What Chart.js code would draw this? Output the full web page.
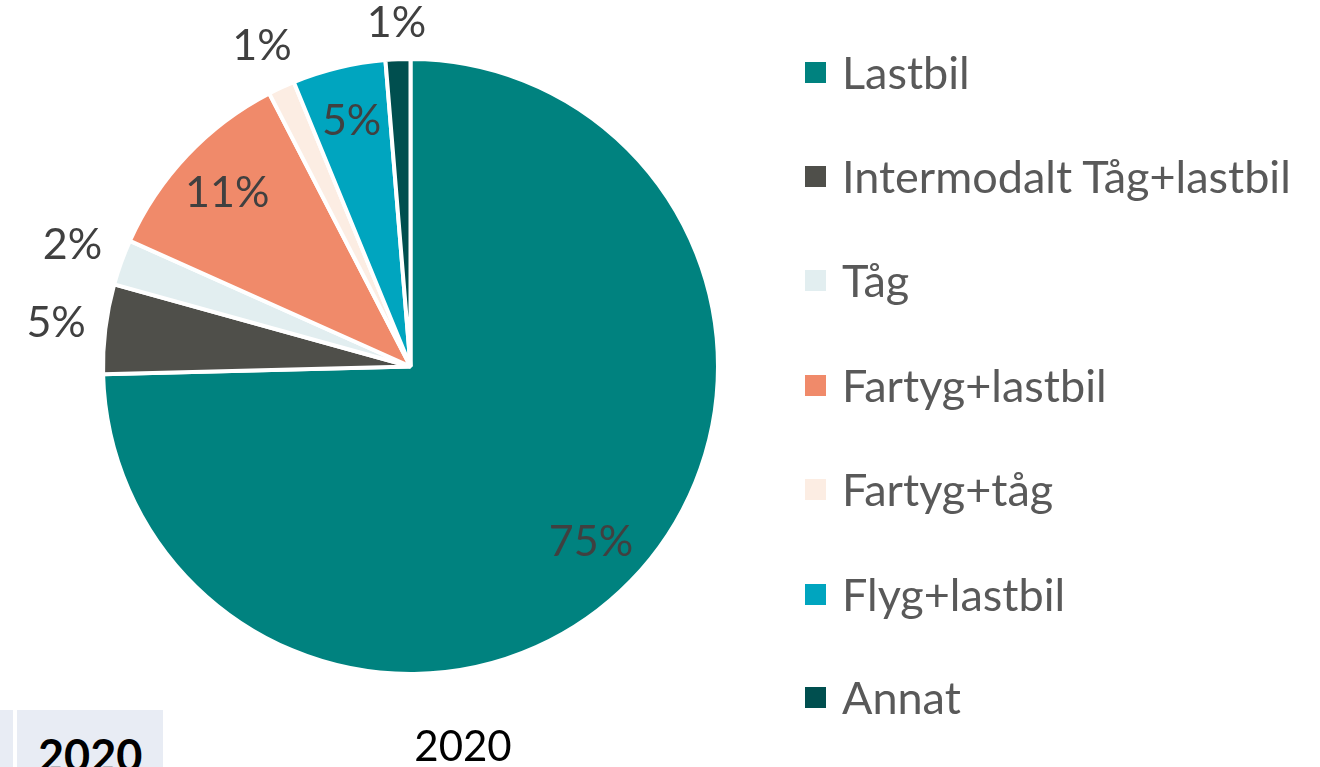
<!DOCTYPE html>
<html>
<head>
<meta charset="utf-8">
<script src="https://cdn.jsdelivr.net/npm/chart.js@4/dist/chart.umd.min.js"></script>
<style>
  body { margin: 0; background: #fff; }
  #wrap { position: relative; width: 1320px; height: 767px; overflow: hidden; font-family: Lato, sans-serif; }
  #grafico { position: absolute; left: 0; top: 0; }
  #leyenda { position: absolute; left: 805px; top: 0; }
  .item { position: absolute; left: 0; white-space: nowrap; color: #595959; font-size: 45px; line-height: 40px; }
  .item span.box { position: absolute; left: 0; top: 9px; width: 21px; height: 21px; }
  .item span.txt { position: absolute; left: 37px; top: -1px; }
  #titulo { position: absolute; left: 463px; top: 720px; transform: translateX(-50%); font-size: 42px; color: #000; }
  .celda { position: absolute; top: 710px; height: 57px; background: #E8ECF4; }
  #anio { position: absolute; left: 38px; top: 728px; font-size: 45px; font-weight: bold; color: #000; }
</style>
</head>
<body>
<div id="wrap">
  <canvas id="grafico" width="1320" height="767"></canvas>
  <div id="leyenda"></div>
  <div class="celda" style="left:0;width:13px"></div>
  <div class="celda" style="left:17px;width:146px"></div>
  <div id="anio">2020</div>
  <div id="titulo">2020</div>
</div>
<script>
const categorias = ['Lastbil', 'Intermodalt Tåg+lastbil', 'Tåg', 'Fartyg+lastbil', 'Fartyg+tåg', 'Flyg+lastbil', 'Annat'];
const valores = [74.6, 4.7, 2.4, 10.7, 1.4, 4.9, 1.3];
const colores = ['#00827F', '#4F4F4A', '#E2EEF0', '#F08A6A', '#FCEDE3', '#00A5BF', '#004F4F'];
const etiquetasFuera = [1, 2, 4, 6];

// leyenda en html
const leyenda = document.getElementById('leyenda');
const posY = [73, 177, 281, 386, 490, 595, 698];
categorias.forEach(function(c, i) {
  const d = document.createElement('div');
  d.className = 'item';
  d.style.top = (posY[i] - 20) + 'px';
  d.innerHTML = '<span class="box" style="background:' + colores[i] + '"></span><span class="txt">' + c + '</span>';
  leyenda.appendChild(d);
});

const total = valores.reduce((a, b) => a + b, 0);

const etiquetas = {
  id: 'etiquetas',
  afterDatasetsDraw(chart) {
    const ctx = chart.ctx;
    const meta = chart.getDatasetMeta(0);
    ctx.save();
    ctx.font = '43px Lato, sans-serif';
    ctx.fillStyle = '#404040';
    ctx.textAlign = 'center';
    ctx.textBaseline = 'middle';
    meta.data.forEach(function(arc, i) {
      const p = arc.getProps(['x', 'y', 'startAngle', 'endAngle', 'outerRadius']);
      const texto = Math.round(valores[i] / total * 100) + '%';
      const ang = (p.startAngle + p.endAngle) / 2;
      const cos = Math.cos(ang), sin = Math.sin(ang);
      let r;
      if (etiquetasFuera.includes(i)) {
        const w = ctx.measureText(texto).width;
        r = p.outerRadius + 18 + Math.abs(cos) * w / 2 + Math.abs(sin) * 17;
      } else {
        r = p.outerRadius * 0.82;
      }
      ctx.fillText(texto, p.x + cos * r, p.y + sin * r);
    });
    ctx.restore();
  }
};

new Chart(document.getElementById('grafico').getContext('2d'), {
  type: 'pie',
  data: {
    labels: categorias,
    datasets: [{
      data: valores,
      backgroundColor: colores,
      borderColor: '#ffffff',
      borderWidth: 4
    }]
  },
  options: {
    responsive: false,
    animation: false,
    layout: { padding: { left: 101, right: 600, top: 57, bottom: 91 } },
    plugins: {
      legend: { display: false },
      tooltip: { enabled: false }
    }
  },
  plugins: [etiquetas]
});
</script>
</body>
</html>
